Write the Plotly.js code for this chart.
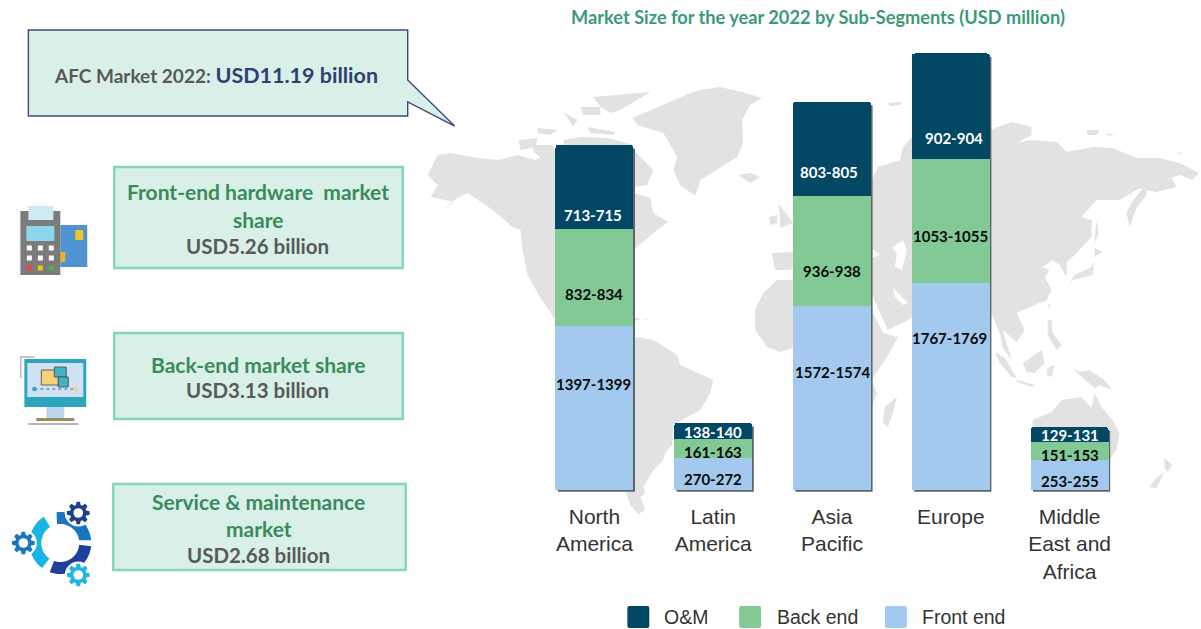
<!DOCTYPE html>
<html><head><meta charset="utf-8">
<script src="https://cdn.plot.ly/plotly-3.0.1.min.js"></script>
<style>html,body{margin:0;padding:0;background:#fff}#c{width:1201px;height:629px}</style>
</head><body><div id="c"></div>
<script>
// ---------- data ----------
const categories = ['North<br>America','Latin<br>America','Asia<br>Pacific','Europe','Middle<br>East and<br>Africa'];
const seriesNames = ['O&M','Back end','Front end'];
const frontEnd = [1398,271,1573,1768,254];
const backEnd  = [833,162,937,1054,152];
const oAndM    = [714,139,804,903,130];
const frontLabels = ['1397-1399','270-272','1572-1574','1767-1769','253-255'];
const backLabels  = ['832-834','161-163','936-938','1053-1055','151-153'];
const omLabels    = ['713-715','138-140','803-805','902-904','129-131'];
// height on the value axis at which each printed label sits in the source
const frontLabelAt = [905,94,1007,1297,77];
const backLabelAt  = [1672,324,1869,2168,299];
const omLabelAt    = [2347,495,2713,3004,469];

// ---------- palette / frame ----------
const cNavy='#024763', cGreen='#82c995', cBlue='#a3c9ee', cLand='#e2e2e2', cPanel='#d8f0e8', cPanelEdge='#86d6b8';
const cTextGreen='#3b8a5d', cTextGrey='#595959', cCallout='#3d4a7f';
const L=534.5,R=1129.5,T=40,B=492;
const X=p=>(p-L)/(R-L), Y=p=>1-(p-T)/(B-T);
const poly=pts=>'M'+pts.map(p=>X(p[0]).toFixed(5)+','+Y(p[1]).toFixed(5)).join('L')+'Z';
const shapes=[];
const fillPoly=(pts,color)=>shapes.push({type:'path',xref:'paper',yref:'paper',layer:'below',path:poly(pts),fillcolor:color,line:{width:0}});
const box=(x0,y0,x1,y1,color,edge,w)=>shapes.push({type:'rect',xref:'paper',yref:'paper',layer:'below',x0:X(x0),x1:X(x1),y0:Y(y0),y1:Y(y1),fillcolor:color,line:edge?{color:edge,width:w}:{width:0}});
const circle=(cx,cy,r,color)=>shapes.push({type:'circle',xref:'paper',yref:'paper',layer:'below',x0:X(cx-r),x1:X(cx+r),y0:Y(cy+r),y1:Y(cy-r),fillcolor:color,line:{width:0}});

// ---------- backdrop world map ----------
const land=[
 // North America
 [[427,175],[437,155],[450,153],[477,158],[498,160],[517,155],[535,160],[555,150],[633,150],[653,170],[647,185],[633,187],[633,193],[650,198],[653,213],[668,222],[653,233],[633,250],[633,320],[555,320],[540,298],[527,275],[522,250],[520,230],[512,227],[492,210],[467,193],[457,198],[437,213],[453,202],[430,197],[437,185]],
 // Arctic islands
 [[518,140],[537,138],[535,147],[520,150]],[[532,145],[553,145],[555,165],[543,160],[533,152]],
 [[593,97],[650,92],[620,110],[610,113],[600,107]],[[580,107],[600,107],[600,115],[583,115]],
 [[587,127],[615,132],[613,135],[590,133]],[[537,128],[557,130],[550,135],[537,133]],
 [[563,112],[577,120],[573,127],[567,118]],[[563,140],[580,137],[607,138],[633,145],[633,150],[563,150]],
 // Greenland, Iceland, British Isles
 [[632,118],[667,103],[690,93],[700,90],[720,87],[742,92],[762,98],[750,105],[742,120],[743,143],[737,157],[713,172],[700,180],[695,196],[680,185],[673,170],[677,157],[663,133],[637,125]],
 [[738,175],[750,173],[760,177],[750,183]],
 [[778,203],[785,212],[793,223],[780,228],[780,217]],[[769,217],[777,215],[777,223],[770,225]],
 // Iberia
 [[772,253],[793,252],[793,268],[790,270],[775,270]],
 // Africa
 [[793,280],[777,280],[763,293],[755,310],[755,330],[767,347],[780,352],[793,348],[793,420],[872,420],[872,407],[877,393],[872,380],[887,357],[898,337],[883,333],[872,310]],
 [[897,397],[893,413],[888,427],[883,423],[885,407]],
 // Eurasia
 [[872,295],[872,180],[878,167],[900,160],[903,147],[912,137],[990,130],[1012,122],[1032,127],[1032,135],[1017,143],[1030,140],[1057,142],[1067,152],[1093,147],[1113,148],[1137,158],[1160,158],[1180,163],[1200,173],[1193,180],[1180,175],[1172,178],[1177,187],[1157,192],[1147,190],[1147,195],[1137,208],[1130,227],[1127,213],[1132,203],[1143,188],[1137,190],[1120,200],[1097,200],[1082,217],[1092,220],[1092,237],[1073,257],[1067,262],[1067,277],[1060,265],[1053,260],[1043,267],[1050,270],[1045,277],[1052,290],[1047,300],[1023,310],[1017,313],[1025,330],[1017,342],[1003,330],[1012,360],[1003,348],[1000,333],[993,317],[990,310],[950,300],[912,318],[888,330]],
 // Small northern islands
 [[888,103],[902,102],[900,105],[890,106]],[[1087,130],[1100,130],[1097,135],[1088,135]],[[1107,133],[1115,135],[1108,136]],[[1178,152],[1183,153],[1179,154]],
 // Japan and Sakhalin
 [[1097,220],[1099,233],[1095,245],[1096,230]],[[1095,248],[1103,252],[1095,257]],[[1095,260],[1093,275],[1073,280],[1069,285],[1075,275],[1092,267]],
 [[1050,303],[1051,306],[1048,308]],
 // South-East Asia
 [[995,352],[1005,358],[1017,378],[1012,377],[1000,363]],[[1017,380],[1035,385],[1033,387],[1017,382]],[[1023,363],[1042,350],[1045,363],[1035,373],[1027,372]],
 [[1048,368],[1055,365],[1052,377],[1047,375]],[[1048,320],[1052,320],[1053,333],[1062,345],[1057,350],[1048,335]],
 [[1073,368],[1080,372],[1090,370],[1105,380],[1113,390],[1100,385],[1095,388],[1080,375]],
 // Australia and New Zealand
 [[1033,420],[1052,412],[1062,400],[1082,397],[1092,408],[1095,393],[1102,407],[1113,420],[1120,433],[1117,450],[1108,462],[1033,462]],
 [[1165,458],[1173,465],[1168,472],[1165,467]],[[1165,472],[1157,488],[1150,487],[1158,477]],
 // Antilles
 [[633,317],[641,319],[633,321]],[[644,319],[648,319],[646,320]],
 // South America
 [[633,338],[637,337],[653,340],[677,355],[680,365],[713,380],[710,393],[700,410],[673,425],[672,445],[665,453],[663,460],[653,470],[643,487],[645,493],[640,497],[645,510],[638,514],[630,505],[625,490],[625,400]]
];
land.forEach(p=>fillPoly(p,cLand));
// inland seas
[[[892,248],[903,240],[907,250],[902,270],[895,267],[897,253]],[[872,248],[880,255],[872,258]],[[893,288],[900,295],[908,303],[903,305],[895,297]]].forEach(p=>fillPoly(p,'#ffffff'));

// ---------- left panel ----------
shapes.push({type:'path',xref:'paper',yref:'paper',layer:'below',path:poly([[27,30],[407,30],[407,80],[454,126],[407,102],[407,116],[27,116]]),fillcolor:cPanel,line:{color:cCallout,width:1.4}});
box(113,167,402,268,cPanel,cPanelEdge,2.5);
box(113,333,402,419,cPanel,cPanelEdge,2.5);
box(112,484,405,570,cPanel,cPanelEdge,2.5);

// POS terminal icon
box(59,225,86,267,'#4f93d0');
box(74,230,82,240,'#f2c230');
box(59,252,64,262,'#f2b02a');
box(19,211,59,275,'#7b7b7b');
box(27,206,52,220,'#cfeaf5');
box(25,226,53,241,'#8dd7ec');
[248,258].forEach(y=>[28,39,50].forEach(x=>box(x-2.5,y-2.5,x+2.5,y+2.5,'#ffffff')));
[[28,'#e8483a'],[39,'#f1c40f'],[50,'#4caf50']].forEach(k=>box(k[0]-2.5,265.5,k[0]+2.5,270.5,k[1]));

// Monitor icon
box(45,407,63,418,'#bcd6ee');
box(35,418,73,421,'#a08a5a');
box(27,423,77,425,'#b5b5b5');
box(23,359,85,407,'#2da6bd');
box(26,363,82,397,'#cfe2f3');
box(40,370,57,385,'#f5d27a','#444',0.8);
box(53,367,65,377,'#3fb4c9','#444',0.8);
box(57,377,67,387,'#3fb4c9','#444',0.8);
shapes.push({type:'line',xref:'paper',yref:'paper',layer:'below',x0:X(33),x1:X(74),y0:Y(389),y1:Y(389),line:{color:'#3d6d8a',width:1,dash:'dot'}});
circle(33,389,2.2,'#2da6bd');circle(74,389,2.2,'#f5d27a');
shapes.push({type:'path',xref:'paper',yref:'paper',layer:'below',path:'M'+X(19.5)+','+Y(378)+'L'+X(19.5)+','+Y(357)+'L'+X(33)+','+Y(357),fillcolor:'rgba(0,0,0,0)',line:{color:'#b5b5b5',width:1.4}});

// Service ring and gears
const arc=(cx,cy,r0,r1,a0,a1,color)=>{const pts=[];for(let a=a0;a<=a1+0.01;a+=4){pts.push([cx+r1*Math.cos(a*Math.PI/180),cy-r1*Math.sin(a*Math.PI/180)]);}
 for(let a=a1;a>=a0-0.01;a-=4){pts.push([cx+r0*Math.cos(a*Math.PI/180),cy-r0*Math.sin(a*Math.PI/180)]);}fillPoly(pts,color);};
arc(59,543,19,31,5,100,'#1b75bc');
arc(59,543,19,31,122,235,'#16b5e5');
arc(59,543,19,31,250,355,'#1e3f9c');
const gear=(cx,cy,r,color)=>{circle(cx,cy,r+2,'#ffffff');const pts=[];for(let i=0;i<8;i++){const a=i*Math.PI/4;[[-.3,.72],[-.15,1],[.15,1],[.3,.72]].forEach(q=>{pts.push([cx+r*q[1]*Math.cos(a+q[0]),cy-r*q[1]*Math.sin(a+q[0])]);});}
 fillPoly(pts,color);circle(cx,cy,r*.42,'#ffffff');};
gear(77,513,11.5,'#1f3f8f');
gear(22,543,11.5,'#1b75bc');
gear(77,575,11.5,'#1fb6e6');

// ---------- bar shadow, drawn from the values ----------
const halfBar=0.3277;
categories.forEach((c,i)=>{const total=frontEnd[i]+backEnd[i]+oAndM[i];
 shapes.push({type:'rect',xref:'x',yref:'y',layer:'below',x0:i-halfBar+0.02,x1:i+halfBar+0.014,y0:-14,y1:total-30,fillcolor:'#5f6468',line:{width:0}});});

// ---------- legend ----------
const legendX=[[627,662],[739,775],[885,920]];
const legendColors=[cNavy,cGreen,cBlue];
const annotations=[];
const rnd=(x0,y0,x1,y1,c)=>{const r=2,px=X,py=Y;shapes.push({type:'path',xref:'paper',yref:'paper',layer:'below',fillcolor:c,line:{width:0},
 path:`M${px(x0+r)},${py(y0)}L${px(x1-r)},${py(y0)}Q${px(x1)},${py(y0)} ${px(x1)},${py(y0+r)}L${px(x1)},${py(y1-r)}Q${px(x1)},${py(y1)} ${px(x1-r)},${py(y1)}L${px(x0+r)},${py(y1)}Q${px(x0)},${py(y1)} ${px(x0)},${py(y1-r)}L${px(x0)},${py(y0+r)}Q${px(x0)},${py(y0)} ${px(x0+r)},${py(y0)}Z`});};
seriesNames.forEach((n,i)=>{rnd(legendX[i][0],606,legendX[i][0]+22,628,legendColors[i]);
 annotations.push({xref:'paper',yref:'paper',x:X(legendX[i][1]),y:Y(617),xanchor:'left',yanchor:'middle',showarrow:false,text:n,font:{family:'Liberation Sans',size:19.5,color:'#333333'}});});

// ---------- panel text ----------
const panelFont=(c,s)=>({family:'Lato',size:s,color:c,weight:700});
const panelText=(x,y,t,c,s)=>annotations.push({xref:'paper',yref:'paper',x:X(x),y:Y(y),xanchor:'center',yanchor:'middle',showarrow:false,text:t,font:panelFont(c,s)});
annotations.push({xref:'paper',yref:'paper',x:X(51),y:Y(75),xanchor:'left',yanchor:'middle',showarrow:false,
 text:'<span style="font-size:19px;color:'+cTextGrey+'">AFC Market 2022: </span><span style="color:#2f3f70">USD11.19 billion</span>',font:panelFont('#2f3f70',21.5)});
panelText(257,191,'Front-end hardware  market',cTextGreen,21);
panelText(257,219,'share',cTextGreen,21);
panelText(257,246,'USD5.26 billion',cTextGrey,20.5);
panelText(257,364,'Back-end market share',cTextGreen,21);
panelText(257,390,'USD3.13 billion',cTextGrey,20.5);
panelText(258,501,'Service &amp; maintenance',cTextGreen,21);
panelText(258,528,'market',cTextGreen,21);
panelText(258,555,'USD2.68 billion',cTextGrey,20.5);

// ---------- bar labels ----------
const labelNudge={'803-805':-3,'902-904':3,'1767-1769':-1,'1397-1399':-1,'713-715':-1};
const addLabels=(labels,at,color)=>labels.forEach((t,i)=>annotations.push({xref:'x',yref:'y',x:i,y:at[i],xshift:labelNudge[t]||0,xanchor:'center',yanchor:'middle',showarrow:false,text:t,font:{family:'Lato',size:15,color:color,weight:700}}));
addLabels(frontLabels,frontLabelAt,'#0a0a0a');
addLabels(backLabels,backLabelAt,'#0a0a0a');
addLabels(omLabels,omLabelAt,'#ffffff');

// ---------- traces ----------
const bar=(y,name,color)=>({type:'bar',x:categories,y:y,name:name,marker:{color:color,line:{width:0}},hovertemplate:'%{x}: %{y}<extra>'+name+'</extra>'});
const traces=[bar(frontEnd,seriesNames[2],cBlue),bar(backEnd,seriesNames[1],cGreen),bar(oAndM,seriesNames[0],cNavy)];

Plotly.newPlot('c',traces,{
 width:1201,height:629,
 margin:{l:L,r:1201-R,t:T,b:629-B,pad:0},
 paper_bgcolor:'#ffffff',plot_bgcolor:'rgba(0,0,0,0)',
 barmode:'stack',bargap:0.3446,barcornerradius:3,showlegend:false,
 title:{text:'Market Size for the year 2022 by Sub-Segments (USD million)',x:818/1201,xanchor:'center',y:1-18/629,yanchor:'middle',font:{family:'Lato',size:18.2,color:'#3c9a78',weight:700}},
 xaxis:{type:'category',categoryorder:'array',categoryarray:categories,tickfont:{family:'Liberation Sans',size:21,color:'#333333'},ticks:'',showline:false,showgrid:false,zeroline:false,automargin:false,ticklabelstandoff:10,fixedrange:true},
 yaxis:{range:[-17.07,3840],visible:false,showgrid:false,zeroline:false,fixedrange:true},
 shapes:shapes,annotations:annotations,font:{family:'Lato'}
},{displayModeBar:false,responsive:false});
</script></body></html>
